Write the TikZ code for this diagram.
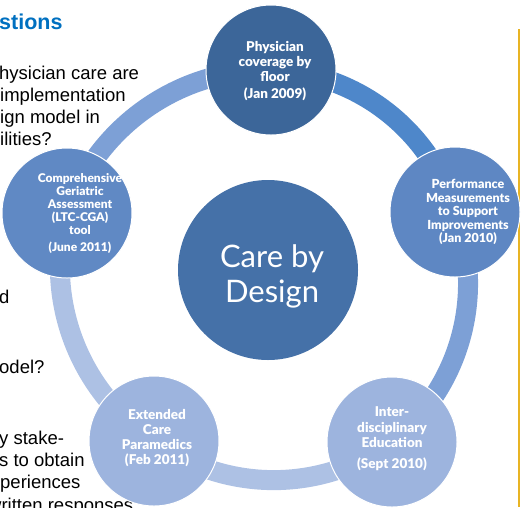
\documentclass[tikz,border=0pt]{standalone}
\usepackage{fontspec}
\usetikzlibrary{backgrounds}
\setmainfont{Liberation Sans}
\newfontfamily\gill{Lato}[BoldFont={Lato Black}]
\definecolor{headblue}{HTML}{0070C0}
\definecolor{rulegold}{HTML}{E8B424}
\definecolor{cTop}{HTML}{3C6699}
\definecolor{cRight}{HTML}{5E87C3}
\definecolor{cLow}{HTML}{9DB4DE}
\definecolor{cLeft}{HTML}{6089C4}
\definecolor{cMid}{HTML}{4571A8}
\definecolor{aTR}{HTML}{4E87CA}
\definecolor{aSide}{HTML}{7DA0D6}
\definecolor{aLow}{HTML}{ADC1E4}
\begin{document}
\begin{tikzpicture}[x=1pt,y=1pt,
  slide/.style={anchor=base west, inner sep=0pt, font=\fontsize{18.5}{22}\selectfont},
  head/.style={anchor=base west, inner sep=0pt, text=headblue, font=\bfseries\fontsize{21.5}{24}\selectfont},
  stage/.style={circle, draw=white, line width=1pt, minimum size=130pt, inner sep=0pt},
  ringseg/.style={line width=20pt, bend left=36, looseness=0.94},
  lbl/.style={text=white, align=center, inner sep=0pt},
  lblfont/.style 2 args={font=\gill\bfseries\fontsize{#1}{#2}\selectfont}
]
\useasboundingbox (0,0) rectangle (521,-507);
\clip (0,0) rectangle (521,-507);

% slide text behind the cycle
\begin{pgfonlayer}{background}
\node[head] (hd) at (-1,-29) {stions};
\node[slide] (s1) at (-1,-79) {hysician care are};
\node[slide] (s2) at (0,-101) {implementation};
\node[slide] (s3) at (0,-123) {ign model in};
\node[slide] (s4) at (0,-145) {ilities?};
\node[slide] (s5) at (-1,-303) {d};
\node[slide] (s6) at (-1,-373) {odel?};
\node[slide] (s7) at (-1,-444) {y stake-};
\node[slide] (s8) at (-1,-466) {s to obtain};
\node[slide] (s9) at (0,-488) {periences};
\node[slide] (s10) at (-12,-511) {written responses};

% gold rule on the right
\coordinate (gTop) at (519,-29);
\coordinate (gBot) at (519,-507);
\draw[rulegold, line width=1.2pt] (gTop) -- (gBot);
\end{pgfonlayer}

% stages
\node[stage, fill=cTop] (top) at (271,-70) {};
\node[stage, fill=cRight] (right) at (455,-212) {};
\node[stage, fill=cLow] (br) at (392,-442) {};
\node[stage, fill=cLow] (bl) at (154,-441) {};
\node[stage, fill=cLeft] (left) at (67,-213) {};
\node[circle, fill=cMid, minimum size=180pt, inner sep=0pt] (hub) at (268,-270) {};

% ring segments between the stages, underneath them
\begin{pgfonlayer}{background}
\draw[ringseg, aTR] (top.center) to (right.center);
\draw[ringseg, aSide] (right.center) to (br.center);
\draw[ringseg, aLow] (br.center) to (bl.center);
\draw[ringseg, aLow] (bl.center) to (left.center);
\draw[ringseg, aSide] (left.center) to (top.center);
\end{pgfonlayer}

% labels
\node[lbl, lblfont={13.5}{15}] (tTop) at ([xshift=4,yshift=-1]top.center)
  {Physician\\coverage by\\floor\\[2pt](Jan 2009)};
\node[lbl, lblfont={12.5}{13.5}] (tRight) at ([xshift=13]right.center)
  {Performance\\Measurements\\to Support\\Improvements\\(Jan 2010)};
\node[lbl, lblfont={13.5}{15.5}] (tBR) at ([yshift=3.5]br.center)
  {Inter-\\disciplinary\\Education\\[5pt](Sept 2010)};
\node[lbl, lblfont={13.5}{15}] (tBL) at ([xshift=3,yshift=2.5]bl.center)
  {Extended\\Care\\Paramedics\\(Feb 2011)};
\node[lbl, lblfont={12}{13}] (tLeft) at ([xshift=13]left.center)
  {Comprehensive\\Geriatric\\Assessment\\(LTC-CGA)\\tool\\[4pt](June 2011)};
\node[lbl, font=\gill\fontsize{31}{35}\selectfont] (tHub) at ([xshift=4,yshift=-6]hub.center)
  {Care by\\Design};
\end{tikzpicture}
\end{document}
